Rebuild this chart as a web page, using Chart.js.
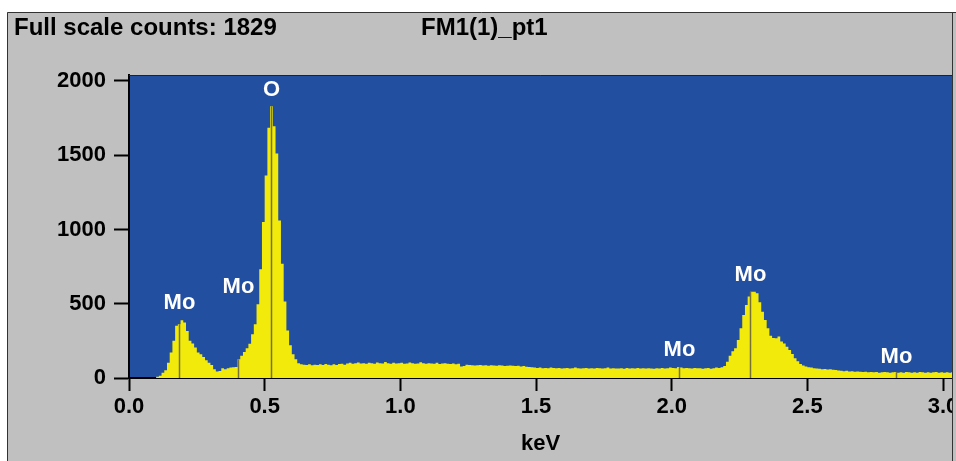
<!DOCTYPE html>
<html>
<head>
<meta charset="utf-8">
<script src="https://cdn.jsdelivr.net/npm/chart.js@4.4.0/dist/chart.umd.min.js"></script>
<style>
  html, body { margin: 0; padding: 0; background: #fff; }
  #wrap { width: 956px; height: 461px; }
</style>
</head>
<body>
<div id="wrap"><canvas id="myChart" width="956" height="461"></canvas></div>
<script>
// EDS spectrum, counts per 10 eV channel starting at 0 keV
const channelWidth = 0.01;
const counts = [
  0,0,0,0,0,0,0,0,0,0,
  8,15,36,52,103,171,250,351,362,389,
  373,317,250,232,205,171,160,142,119,103,
  88,59,43,47,65,59,65,70,72,74,
  126,150,175,200,230,295,362,497,733,1050,
  1363,1685,1829,1695,1512,1060,770,515,320,220,
  160,126,100,92,90,88,92,86,90,88,
  92,88,94,90,86,92,88,94,96,90,
  98,102,96,100,104,98,100,96,102,100,
  96,104,100,98,108,100,96,102,98,100,
  102,96,98,104,100,96,98,106,100,96,
  100,98,96,102,94,98,100,96,94,98,
  92,96,78,80,90,88,86,84,86,88,
  84,86,82,86,84,82,86,84,80,82,
  84,82,80,82,78,80,76,74,72,70,
  68,70,66,68,66,70,68,66,68,64,
  66,68,64,66,70,66,64,66,68,64,
  66,64,68,66,64,66,70,64,66,64,
  64,66,62,68,64,66,64,68,64,66,
  64,66,64,62,66,64,68,64,66,70,
  68,66,74,70,66,68,66,64,68,66,
  66,62,65,68,63,66,70,68,72,80,
  110,150,180,200,256,335,425,492,548,581,
  581,570,510,446,390,335,285,270,267,280,
  245,232,211,189,162,133,112,94,85,78,
  72,70,66,64,62,59,60,58,59,56,
  54,50,48,46,48,44,46,42,44,42,
  40,42,38,40,38,40,36,38,40,38,
  36,38,40,36,38,36,40,38,36,38,
  36,40,38,36,38,36,38,40,36,38,
  36,38,36,38
];

// element markers: name, energy (keV), height of the label (counts)
const lineNames = ['Mo', 'Mo', 'O', 'Mo', 'Mo', 'Mo'];
const lineEnergies = [0.185, 0.40, 0.522, 2.027, 2.29, 2.826];
const labelCounts = [505, 612, 1937, 188, 693, 141];

const xTicks = [0, 0.5, 1.0, 1.5, 2.0, 2.5, 3.0];
const yTicks = [0, 500, 1000, 1500, 2000];
const sampleName = 'FM1(1)_pt1';

const fullScale = Math.max(...counts);
const font = '"Liberation Sans", Arial, sans-serif';

const points = counts.map((c, i) => ({x: i * channelWidth, y: c}));
points.push({x: counts.length * channelWidth, y: counts[counts.length - 1]});

const panel = {
  id: 'panel',
  beforeDraw(chart) {
    const {ctx, chartArea: a} = chart;
    ctx.save();
    ctx.fillStyle = '#c0c0c0';
    ctx.fillRect(7, 12, 949, 449);
    ctx.strokeStyle = '#333';
    ctx.lineWidth = 1;
    ctx.beginPath();
    ctx.moveTo(7.5, 461);
    ctx.lineTo(7.5, 12.5);
    ctx.lineTo(956, 12.5);
    ctx.stroke();
    ctx.fillStyle = '#234fa0';
    ctx.fillRect(a.left, a.top, a.right - a.left, a.bottom - a.top);
    ctx.fillStyle = '#000';
    ctx.font = 'bold 24px ' + font;
    ctx.textBaseline = 'middle';
    ctx.fillText('Full scale counts: ' + fullScale, 14, 28);
    ctx.fillText(sampleName, 421, 28);
    ctx.restore();
  },
  afterDatasetsDraw(chart) {
    const {ctx} = chart;
    const xs = chart.scales.x, ys = chart.scales.y;
    ctx.save();
    ctx.strokeStyle = '#76723a';
    ctx.lineWidth = 1.5;
    ctx.fillStyle = '#fff';
    ctx.font = 'bold 22px ' + font;
    ctx.textAlign = 'center';
    ctx.textBaseline = 'middle';
    lineEnergies.forEach((e, k) => {
      const px = Math.round(xs.getPixelForValue(e)) + 0.5;
      const bin = Math.floor(e / channelWidth + 1e-6);
      ctx.beginPath();
      ctx.moveTo(px, ys.getPixelForValue(0));
      ctx.lineTo(px, ys.getPixelForValue(counts[bin]));
      ctx.stroke();
      ctx.fillText(lineNames[k], px, ys.getPixelForValue(labelCounts[k]));
    });
    ctx.restore();
  },
  afterDraw(chart) {
    const {ctx, chartArea: a} = chart;
    ctx.save();
    ctx.strokeStyle = '#222';
    ctx.lineWidth = 1;
    ctx.beginPath();
    ctx.moveTo(a.left, a.top + 0.5);
    ctx.lineTo(a.right, a.top + 0.5);
    ctx.stroke();
    ctx.fillStyle = '#c0c0c0';
    ctx.fillRect(953, 13, 3, 448);
    ctx.strokeStyle = '#333';
    ctx.beginPath();
    ctx.moveTo(952.5, 13);
    ctx.lineTo(952.5, 461);
    ctx.stroke();
    ctx.restore();
  }
};

const ctx = document.getElementById('myChart').getContext('2d');
const myChart = new Chart(ctx, {
  type: 'line',
  data: {
    datasets: [{
      data: points,
      stepped: true,
      fill: 'origin',
      backgroundColor: '#f2ea0a',
      borderWidth: 0,
      borderColor: 'rgba(0,0,0,0)',
      pointRadius: 0
    }]
  },
  options: {
    responsive: false,
    animation: false,
    events: [],
    layout: {padding: {top: 75, right: 4, left: 0, bottom: 0}},
    plugins: {
      legend: {display: false},
      tooltip: {enabled: false}
    },
    scales: {
      x: {
        type: 'linear',
        min: 0,
        max: 3.033,
        afterBuildTicks: s => { s.ticks = xTicks.map(v => ({value: v})); },
        afterFit: s => { s.height = 83; s.paddingLeft = 0; s.paddingRight = 0; },
        ticks: {
          autoSkip: false,
          maxRotation: 0,
          padding: 3,
          color: '#000',
          font: {family: font, size: 22, weight: 'bold'},
          callback: v => v.toFixed(1)
        },
        grid: {drawOnChartArea: false, tickLength: 13, tickColor: '#000', tickWidth: 2},
        border: {color: '#000', width: 2},
        title: {
          display: true,
          text: 'keV',
          color: '#000',
          font: {family: font, size: 22, weight: 'bold'}
        }
      },
      y: {
        min: 0,
        max: 2040,
        afterBuildTicks: s => { s.ticks = yTicks.map(v => ({value: v})); },
        afterFit: s => { s.width = 129; s.paddingTop = 0; s.paddingBottom = 0; },
        ticks: {
          padding: 8,
          color: '#000',
          font: {family: font, size: 22, weight: 'bold'},
          callback: v => String(v)
        },
        grid: {drawOnChartArea: false, tickLength: 15, tickColor: '#000', tickWidth: 2},
        border: {color: '#000', width: 2}
      }
    }
  },
  plugins: [panel]
});
</script>
</body>
</html>
